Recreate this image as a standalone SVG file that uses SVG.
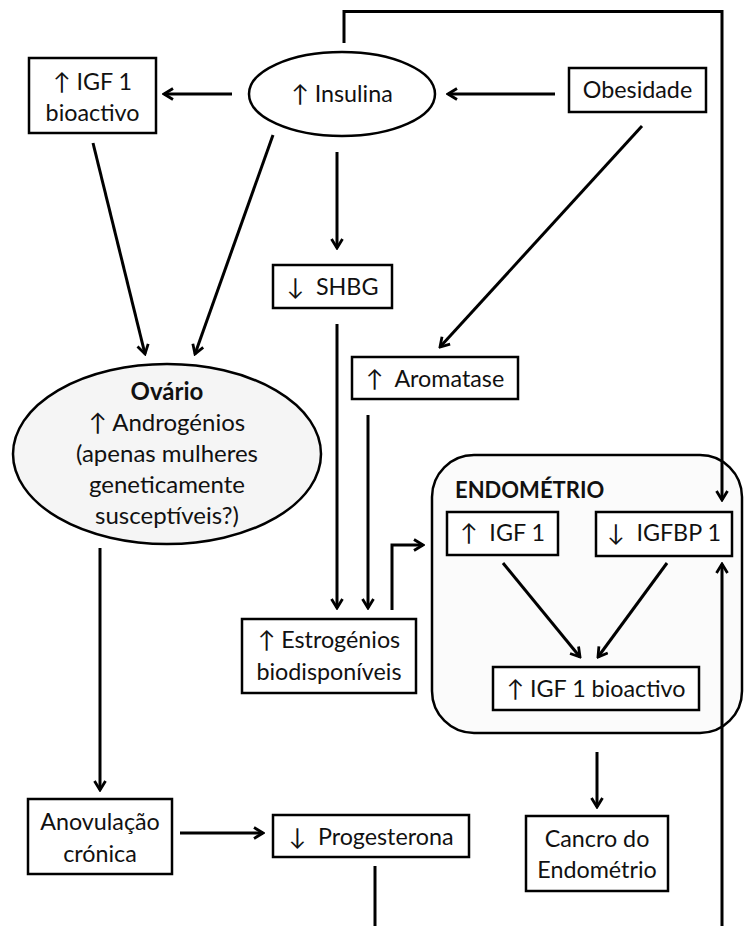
<svg xmlns="http://www.w3.org/2000/svg" width="745" height="926" viewBox="0 0 745 926">
<style>
.bx{fill:#fff;stroke:#000;stroke-width:2.5}
.el{stroke:#000;stroke-width:2.5}
.t{font-family:Lato,"Liberation Sans","DejaVu Sans",sans-serif;font-size:23.3px;fill:#111;text-anchor:middle}
.o{font-size:24px}
.b{font-weight:bold}
.c{fill:none;stroke:#000;stroke-width:3}
</style>
<defs>
<marker id="ah" markerUnits="userSpaceOnUse" viewBox="0 0 14 14" markerWidth="14" markerHeight="14" refX="12" refY="7" orient="auto">
<path d="M3,1.5 L12,7 L3,12.5" fill="none" stroke="#000" stroke-width="2.8"/>
</marker>
</defs>
<rect width="745" height="926" fill="#fff"/>

<g id="endometrio">
<rect x="432" y="455" width="310" height="278" rx="42" ry="42" fill="#fbfbfb" stroke="#000" stroke-width="2.5"/>
<text class="t b" x="455" y="498" style="text-anchor:start;font-size:22px">ENDOMÉTRIO</text>
</g>

<g id="igf1bio_top">
<rect class="bx" x="29" y="58" width="127" height="75"/>
<text class="t" x="92.5" y="90">↑ IGF 1</text>
<text class="t" x="92.5" y="121">bioactivo</text>
</g>

<g id="insulina">
<ellipse class="el" cx="342" cy="94" rx="93" ry="42" fill="#fff"/>
<text class="t" x="342" y="102">↑ Insulina</text>
</g>

<g id="obesidade">
<rect class="bx" x="569" y="68" width="137" height="44"/>
<text class="t" x="637.5" y="98">Obesidade</text>
</g>

<g id="shbg">
<rect class="bx" x="273" y="265" width="119" height="43"/>
<text class="t" x="332.5" y="295">↓&#160; SHBG</text>
</g>

<g id="aromatase">
<rect class="bx" x="352" y="357" width="166" height="42"/>
<text class="t" x="435" y="387">↑&#160; Aromatase</text>
</g>

<g id="ovario">
<ellipse class="el" cx="167" cy="454" rx="154" ry="90" fill="#f5f5f5"/>
<text class="t o b" x="167" y="400">Ovário</text>
<text class="t o" x="167" y="431">↑ Androgénios</text>
<text class="t o" x="167" y="462">(apenas mulheres</text>
<text class="t o" x="167" y="493">geneticamente</text>
<text class="t o" x="167" y="524">susceptíveis?)</text>
</g>

<g id="estrogenios">
<rect class="bx" x="242" y="619" width="174" height="74"/>
<text class="t" x="329" y="648">↑ Estrogénios</text>
<text class="t" x="329" y="680">biodisponíveis</text>
</g>

<g id="igf1">
<rect class="bx" x="447" y="512" width="111" height="43"/>
<text class="t" x="502.5" y="541">↑&#160; IGF 1</text>
</g>

<g id="igfbp1">
<rect class="bx" x="596" y="512" width="136" height="44"/>
<text class="t" x="664" y="541">↓&#160; IGFBP 1</text>
</g>

<g id="igf1bio_endo">
<rect class="bx" x="493" y="667" width="206" height="43"/>
<text class="t" x="596" y="697">↑ IGF 1 bioactivo</text>
</g>

<g id="anovulacao">
<rect class="bx" x="28" y="799" width="144" height="75"/>
<text class="t" x="100" y="830">Anovulação</text>
<text class="t" x="100" y="862">crónica</text>
</g>

<g id="progesterona">
<rect class="bx" x="273" y="815" width="196" height="42"/>
<text class="t" x="371" y="845">↓&#160; Progesterona</text>
</g>

<g id="cancro">
<rect class="bx" x="526" y="816" width="142" height="75"/>
<text class="t" x="597" y="847">Cancro do</text>
<text class="t" x="597" y="878">Endométrio</text>
</g>

<g id="connectors">
<path class="c" d="M344,43 V11.5 H722 V500" marker-end="url(#ah)"/>
<path class="c" d="M232,94 H164" marker-end="url(#ah)"/>
<path class="c" d="M555,94 H448" marker-end="url(#ah)"/>
<path class="c" d="M93,143 L145,354" marker-end="url(#ah)"/>
<path class="c" d="M273,135 L195,354" marker-end="url(#ah)"/>
<path class="c" d="M337,152 V248" marker-end="url(#ah)"/>
<path class="c" d="M642,126 L440,347" marker-end="url(#ah)"/>
<path class="c" d="M337,324 V608" marker-end="url(#ah)"/>
<path class="c" d="M368,415 V608" marker-end="url(#ah)"/>
<path class="c" d="M392,610 V545 H423" marker-end="url(#ah)"/>
<path class="c" d="M503,563 L580,657" marker-end="url(#ah)"/>
<path class="c" d="M667,563 L598,657" marker-end="url(#ah)"/>
<path class="c" d="M100,548 V790" marker-end="url(#ah)"/>
<path class="c" d="M180,833 H263" marker-end="url(#ah)"/>
<path class="c" d="M597,752 V807" marker-end="url(#ah)"/>
<path class="c" d="M375,866 V926"/>
<path class="c" d="M722,926 V564" marker-end="url(#ah)"/>
</g>
</svg>
